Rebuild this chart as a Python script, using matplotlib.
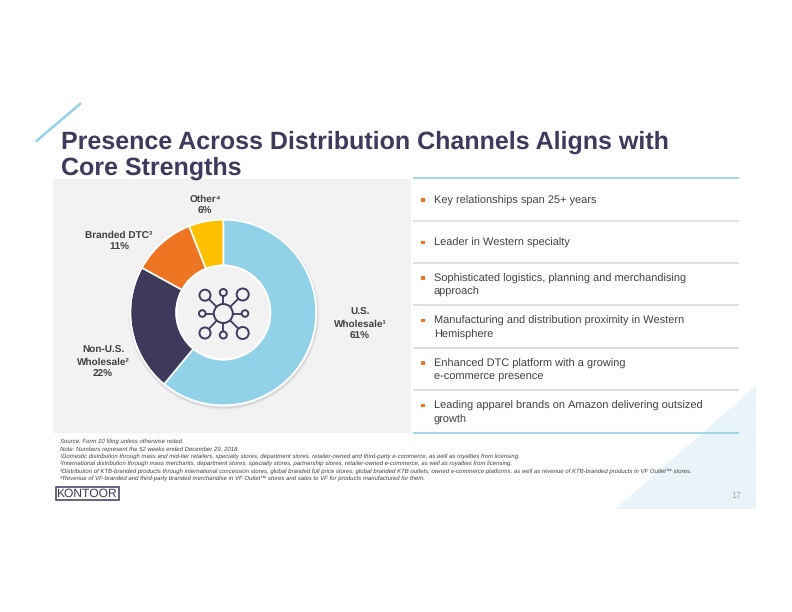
"""Kontoor distribution channels slide, redrawn with matplotlib.

Everything is placed on one full-figure axes whose units are reference pixels.
Output: ``out.png``.
"""

import matplotlib.pyplot as plt
from matplotlib.patches import Circle, Polygon, Rectangle

plt.rcParams["font.family"] = ["Liberation Sans", "DejaVu Sans"]
plt.rcParams["text.hinting"] = "no_hinting"
plt.rcParams["text.hinting_factor"] = 1

W, H = 792, 612

TITLE_LINES = ["Presence Across Distribution Channels Aligns with", "Core Strengths"]

channels = ["U.S.\nWholesale¹", "Non-U.S.\nWholesale²", "Branded DTC³", "Other⁴"]
shares = [61, 22, 11, 6]

bullets = [
    "Key relationships span 25+ years",
    "Leader in Western specialty",
    "Sophisticated logistics, planning and merchandising\napproach",
    "Manufacturing and distribution proximity in Western\nHemisphere",
    "Enhanced DTC platform with a growing\ne-commerce presence",
    "Leading apparel brands on Amazon delivering outsized\ngrowth",
]

footnotes = [
    "Source: Form 10 filing unless otherwise noted.",
    "Note: Numbers represent the 52 weeks ended December 29, 2018.",
    "¹Domestic distribution through mass and mid-tier retailers, specialty stores, department stores, "
    "retailer-owned and third-party e-commerce, as well as royalties from licensing.",
    "²International distribution through mass merchants, department stores, specialty stores, "
    "partnership stores, retailer-owned e-commerce, as well as royalties from licensing.",
    "³Distribution of KTB-branded products through international concession stores, global branded full "
    "price stores, global branded KTB outlets, owned e-commerce platforms, as well as revenue of "
    "KTB-branded products in VF Outlet™ stores.",
    "⁴Revenue of VF-branded and third-party branded merchandise in VF Outlet™ stores and sales to VF "
    "for products manufactured for them.",
]

NAVY = "#3d3a5c"
SKY = "#92d2e8"
ORANGE = "#ee7623"
GOLD = "#ffc000"
PANEL = "#f2f2f2"
TEXT = "#404040"
RULE = "#dcdcdc"

CX, CY = 223.3, 312.5
R_OUT, R_IN = 93.0, 47.0

# label anchors, same order as channels (x, y of the first line, in image pixels)
LABEL_POS = [(360, 312), (103, 350.5), (119, 235.5), (205, 199.2)]


def yy(y):
    """Image pixel row to axes y."""
    return H - y


def draw_icon(ax):
    # hub and spokes in the doughnut hole
    cy = CY + 1
    hub_r = 9.5
    nodes = [
        (0, -21, 3.5), (0, 21.5, 3.5), (-21, 0, 3.3), (21.7, 0, 3.3),
        (-18.3, -18.3, 5.5), (19.4, -19, 6), (-18.3, 19.5, 5.5), (19.4, 19.5, 6),
    ]
    for dx, dy, r in nodes:
        dist = (dx * dx + dy * dy) ** 0.5
        ux, uy = dx / dist, dy / dist
        ax.plot(
            [CX + ux * hub_r, CX + ux * (dist - r)],
            [yy(cy + uy * hub_r), yy(cy + uy * (dist - r))],
            color=NAVY, lw=1.3, solid_capstyle="butt", zorder=6,
        )
        ax.add_patch(Circle((CX + dx, yy(cy + dy)), r, fc="none", ec=NAVY, lw=1.4, zorder=6))
    ax.add_patch(Circle((CX, yy(cy)), hub_r, fc="none", ec=NAVY, lw=1.4, zorder=6))


def main():
    fig = plt.figure(figsize=(W / 100, H / 100), dpi=100, facecolor="white")
    ax = fig.add_axes([0, 0, 1, 1])

    # slide decoration
    ax.add_patch(Polygon([(756, yy(386)), (756, yy(509)), (615, yy(509))], fc="#e8f4fa", ec="none", zorder=0))
    ax.plot([36.7, 80], [yy(140.7), yy(104)], color=SKY, lw=1.8, zorder=1)
    ax.add_patch(Rectangle((53, yy(433)), 358, 254, fc=PANEL, ec="none", zorder=1))

    for i, line in enumerate(TITLE_LINES):
        ax.text(61, yy(148.5 + i * 25.8), line, fontsize=18.0, fontweight="bold", color=NAVY,
                ha="left", va="baseline", zorder=5)

    # doughnut with a soft drop shadow
    for grow, alpha in [(2.4, 0.10), (1.4, 0.14)]:
        ax.add_patch(Circle((CX + 0.5, yy(CY + 1.5)), R_OUT + grow, fc="#808080", ec="none", alpha=alpha, zorder=2))
    ax.pie(
        shares,
        colors=[SKY, NAVY, ORANGE, GOLD],
        center=(CX, yy(CY)),
        radius=R_OUT,
        startangle=90,
        counterclock=False,
        frame=True,
        wedgeprops={"width": R_OUT - R_IN, "edgecolor": "white", "linewidth": 1.2, "zorder": 3},
    )
    ax.add_patch(Circle((CX, yy(CY)), R_OUT, fc="none", ec="white", lw=1.2, zorder=4))
    ax.add_patch(Circle((CX, yy(CY)), R_IN, fc=PANEL, ec="white", lw=1.4, zorder=4))
    draw_icon(ax)

    for name, share, (x, y) in zip(channels, shares, LABEL_POS):
        for i, line in enumerate(name.split("\n") + [f"{share}%"]):
            ax.text(x, yy(y + i * 12), line, fontsize=7.25, fontweight="bold", color=TEXT,
                    ha="center", va="center", zorder=5)

    # right-hand list
    rows = [178.3, 220.7, 262.7, 305.3, 347.7, 390, 432.7]
    for i, y in enumerate(rows):
        edge = i in (0, len(rows) - 1)
        ax.plot([413, 739], [yy(y), yy(y)], color=SKY if edge else RULE, lw=1.2, zorder=2,
                solid_capstyle="butt")
    first_line_y = [200, 242.3, 278, 320.3, 363, 405.3]
    for text, y in zip(bullets, first_line_y):
        ax.add_patch(Rectangle((421.2, yy(y + 1.7)), 3.3, 3.3, fc=ORANGE, ec="none", zorder=5))
        for i, line in enumerate(text.split("\n")):
            ax.text(434, yy(y + 1 + i * 13.2), line, fontsize=7.95, color=TEXT, ha="left", va="center", zorder=5)

    for i, note in enumerate(footnotes):
        ax.text(60.5, yy(441.7 + i * 7.3), note, fontsize=4.35, style="italic", color=TEXT,
                ha="left", va="center", zorder=5)

    # logo and page number
    ax.add_patch(Rectangle((56, yy(500)), 63, 13, fc="none", ec=NAVY, lw=1.1, zorder=5))
    ax.text(86.5, yy(493.5), "KONTOOR", fontsize=8.4, color=NAVY, ha="center", va="center", zorder=6)
    ax.text(736, yy(496), "17", fontsize=6.8, color="#a6a6a6", ha="center", va="center", zorder=5)

    ax.set_xlim(0, W)
    ax.set_ylim(0, H)
    ax.set_aspect("auto")
    ax.axis("off")
    fig.savefig("out.png", dpi=100, facecolor="white")


if __name__ == "__main__":
    main()
